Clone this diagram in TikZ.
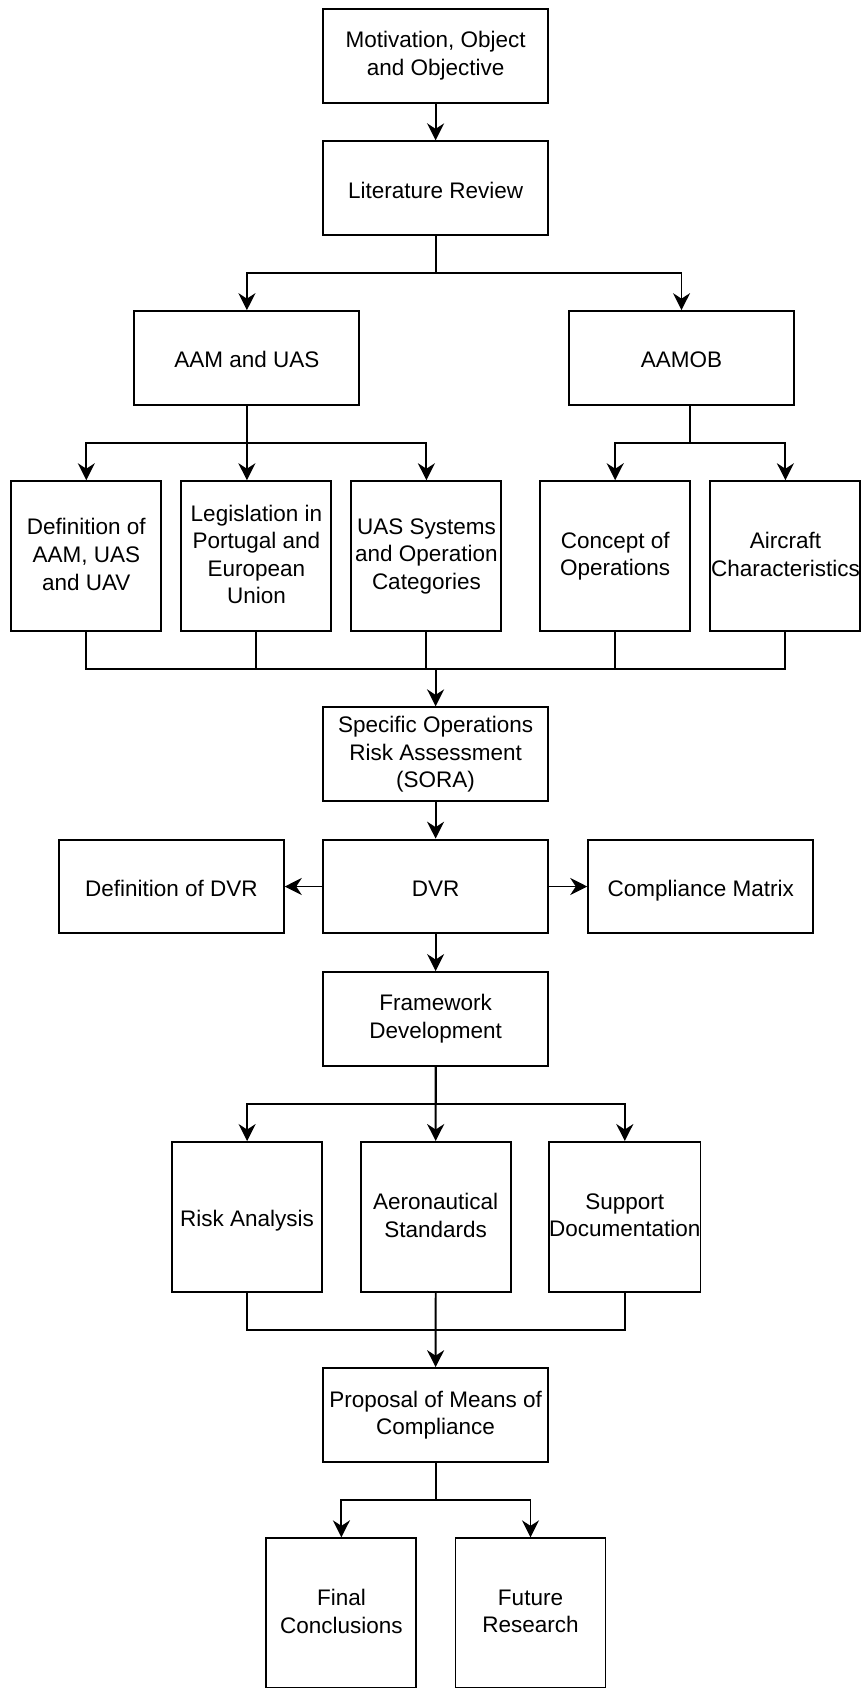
\documentclass[tikz,border=0pt]{standalone}
\usepackage{fontspec}
\setmainfont{Liberation Sans}
\usetikzlibrary{arrows.meta}
% line strut centred on the middle of the capitals
\newcommand\boxstrut{\rule[-3.9pt]{0pt}{27.6pt}}
\begin{document}
\begin{tikzpicture}[x=1pt,y=-1pt,
  box/.style={draw=black, line width=1.9pt, fill=white, rectangle, align=center,
    inner sep=0pt, font=\fontsize{22.5}{27.6}\selectfont,
    execute at begin node={\boxstrut}, execute at end node={\boxstrut}},
  wide/.style={box, minimum width=225pt, minimum height=93.75pt},
  sq/.style={box, minimum width=150pt, minimum height=150pt},
  link/.style={line width=1.9pt, draw=black},
  arr/.style={link, -{Stealth[length=17pt,width=17pt,inset=5.5pt]}},
]
\useasboundingbox (0,0) rectangle (862,1688);
\clip (0,0) rectangle (862,1688);

% boxes
\node[wide] (mot) at (435.6,55.8) {Motivation, Object\\and Objective};
\node[wide] (lit) at (435.6,188.2) {Literature Review};
\node[wide] (aam) at (246.9,358) {AAM and UAS};
\node[wide] (aamob) at (681.5,358) {AAMOB};
\node[sq] (d1) at (86.3,556.2) {Definition of\\AAM, UAS\\and UAV};
\node[sq] (d2) at (256.4,556.2) {Legislation in\\Portugal and\\European\\Union};
\node[sq] (d3) at (426.4,556.2) {UAS Systems\\and Operation\\Categories};
\node[sq] (d4) at (615.2,556.2) {Concept of\\Operations};
\node[sq] (d5) at (785.4,556.2) {Aircraft\\Characteristics};
\node[wide] (sora) at (435.6,754.2) {Specific Operations\\Risk Assessment\\(SORA)};
\node[wide] (dvr) at (435.6,886.5) {DVR};
\node[wide] (defdvr) at (171.3,886.5) {Definition of DVR};
\node[wide] (comp) at (700.7,886.5) {Compliance Matrix};
\node[wide] (fw) at (435.6,1018.9) {Framework\\Development};
\node[sq] (risk) at (247.1,1217) {Risk Analysis};
\node[sq] (aero) at (435.7,1217) {Aeronautical\\Standards};
\node[sq] (supp) at (624.8,1217) {Support\\Documentation};
\node[wide] (prop) at (435.6,1415) {Proposal of Means of\\Compliance};
\node[sq] (final) at (341.4,1613.3) {Final\\Conclusions};
\node[sq] (future) at (530.5,1613.3) {Future\\Research};

% bus levels
\coordinate (m1) at (435.6,669);
\coordinate (m2) at (435.6,1330);
% AAMOB leaves from a point right of its centre
\coordinate (aamobout) at ([xshift=8.5pt]aamob.south);

% connectors
\draw[arr] (mot.south) -- (lit.north);
\draw[arr] (lit.south) -- ++(0,37) -| (aam.north);
\draw[arr] (lit.south) -- ++(0,37) -| (aamob.north);

\draw[arr] (aam.south) -- ++(0,37.5) -| (d1.north);
\draw[arr] (aam.south) -- (aam.south |- d2.north);
\draw[arr] (aam.south) -- ++(0,37.5) -| (d3.north);
\draw[arr] (aamobout) -- ++(0,37.5) -| (d4.north);
\draw[arr] (aamobout) -- ++(0,37.5) -| (d5.north);

\draw[link] (d1.south) -- (d1.south |- m1) -- (d5.south |- m1) -- (d5.south);
\draw[link] (d2.south) -- (d2.south |- m1);
\draw[link] (d3.south) -- (d3.south |- m1);
\draw[link] (d4.south) -- (d4.south |- m1);
\draw[arr] (m1) -- (sora.north);

\draw[arr] (sora.south) -- (dvr.north);
\draw[arr] (dvr.west) -- (defdvr.east);
\draw[arr] (dvr.east) -- (comp.west);
\draw[arr] (dvr.south) -- (fw.north);

\draw[arr] (fw.south) -- (aero.north);
\draw[arr] (fw.south) -- ++(0,37) -| (risk.north);
\draw[arr] (fw.south) -- ++(0,37) -| (supp.north);

\draw[link] (risk.south) -- (risk.south |- m2) -- (supp.south |- m2) -- (supp.south);
\draw[arr] (aero.south) -- (prop.north);

\draw[arr] (prop.south) -- ++(0,37) -| (final.north);
\draw[arr] (prop.south) -- ++(0,37) -| (future.north);
\end{tikzpicture}
\end{document}
